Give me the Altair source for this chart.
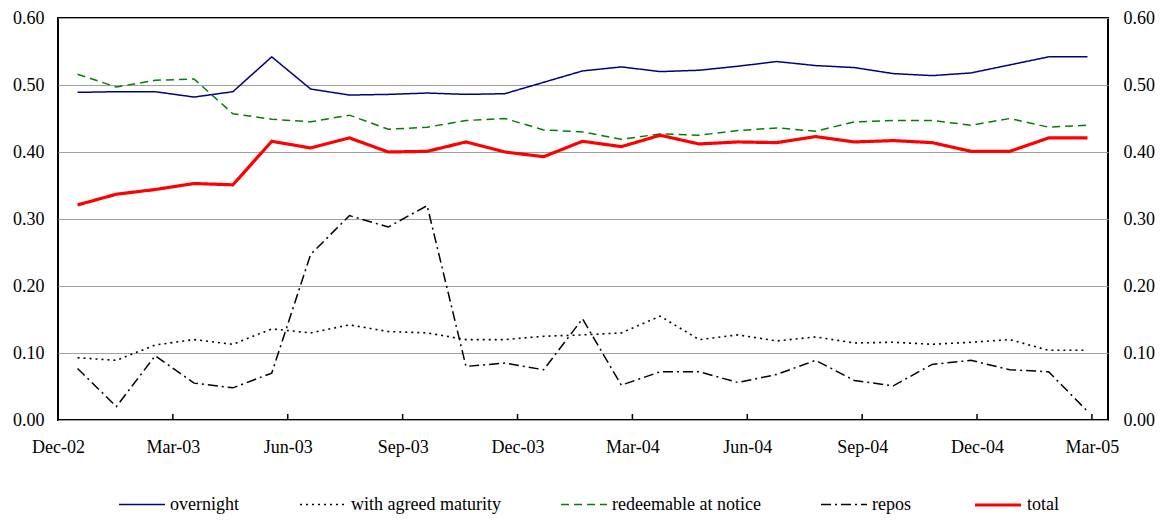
import altair as alt
import pandas as pd

# Series (monthly observations, 27 points)
overnight = [0.489, 0.490, 0.490, 0.482, 0.490, 0.542, 0.494, 0.485, 0.486, 0.488,
             0.486, 0.487, 0.504, 0.521, 0.527, 0.520, 0.522, 0.528, 0.535, 0.529,
             0.526, 0.517, 0.514, 0.518, 0.530, 0.542, 0.542]
agreed = [0.093, 0.089, 0.112, 0.120, 0.113, 0.136, 0.130, 0.142, 0.132, 0.130,
          0.120, 0.120, 0.125, 0.127, 0.130, 0.155, 0.120, 0.127, 0.118, 0.124,
          0.115, 0.116, 0.113, 0.116, 0.120, 0.104, 0.104]
redeemable = [0.516, 0.497, 0.507, 0.509, 0.457, 0.449, 0.445, 0.455, 0.434, 0.437,
              0.447, 0.450, 0.433, 0.430, 0.419, 0.427, 0.425, 0.432, 0.436, 0.431,
              0.445, 0.447, 0.447, 0.440, 0.450, 0.437, 0.440]
repos = [0.077, 0.020, 0.096, 0.055, 0.048, 0.070, 0.247, 0.305, 0.288, 0.320,
         0.080, 0.085, 0.075, 0.151, 0.052, 0.072, 0.072, 0.056, 0.068, 0.089,
         0.059, 0.051, 0.083, 0.089, 0.075, 0.072, 0.013]
total = [0.321, 0.337, 0.344, 0.353, 0.351, 0.416, 0.406, 0.421, 0.400, 0.401,
         0.415, 0.400, 0.393, 0.416, 0.408, 0.425, 0.412, 0.415, 0.414, 0.423,
         0.415, 0.417, 0.414, 0.401, 0.401, 0.421, 0.421]

series_names = ["overnight", "with agreed maturity", "redeemable at notice", "repos", "total"]
series_values = [overnight, agreed, redeemable, repos, total]
series_colors = ["#000080", "#000000", "#008000", "#000000", "#ff0000"]
series_dash = [[1, 0], [2, 4], [8, 5], [10, 4, 2, 4], [1, 0]]
series_width = [1.5, 1.6, 1.5, 1.5, 3.2]

tick_labels = ["Dec-02", "Mar-03", "Jun-03", "Sep-03", "Dec-03",
               "Mar-04", "Jun-04", "Sep-04", "Dec-04", "Mar-05"]

# x positions in months since Dec-02 (quarterly tick every 3 months)
FIRST = 0.51
STEP = 1.0144

rows = []
for name, vals in zip(series_names, series_values):
    for i, v in enumerate(vals):
        rows.append({"series": name, "m": FIRST + i * STEP, "v": v})
df = pd.DataFrame(rows)

tick_pos = [3 * i for i in range(len(tick_labels))]
tick_df = pd.DataFrame({"m": tick_pos, "y0": [0.0] * len(tick_labels)})

FONT = "Liberation Serif"
W, H = 1050, 402

xscale = alt.Scale(domain=[0, 27.42], nice=False, zero=False)
yscale = alt.Scale(domain=[0, 0.6], nice=False)
yvals = [0, 0.1, 0.2, 0.3, 0.4, 0.5, 0.6]

label_arr = "[" + ",".join("'%s'" % t for t in tick_labels) + "]"

xaxis = alt.Axis(values=tick_pos,
                 labelExpr=label_arr + "[round(datum.value/3)]",
                 grid=False, ticks=False, domain=False,
                 labelPadding=18, labelFont=FONT, labelFontSize=18,
                 labelColor="black", labelFlush=False)

lines = alt.Chart(df).mark_line().encode(
    x=alt.X("m:Q", scale=xscale, title=None, axis=xaxis),
    y=alt.Y("v:Q", scale=yscale, title=None,
            axis=alt.Axis(values=yvals, format=".2f",
                          grid=True, gridColor="#a0a0a0", gridWidth=1,
                          ticks=False, domain=False, labelPadding=14,
                          labelFont=FONT, labelFontSize=18, labelColor="black")),
    color=alt.Color("series:N", title=None,
                    scale=alt.Scale(domain=series_names, range=series_colors),
                    legend=alt.Legend(orient="none", direction="horizontal",
                                      legendX=60, legendY=462,
                                      symbolType="stroke", symbolSize=2116,
                                      labelFont=FONT, labelFontSize=18,
                                      labelColor="black", labelOffset=4,
                                      columnPadding=57, padding=0,
                                      labelLimit=400)),
    strokeDash=alt.StrokeDash("series:N", title=None,
                              scale=alt.Scale(domain=series_names, range=series_dash)),
    strokeWidth=alt.StrokeWidth("series:N", title=None,
                                scale=alt.Scale(type="ordinal", domain=series_names,
                                                range=series_width)),
    order=alt.Order("m:Q"),
)

ticks = alt.Chart(tick_df).mark_rule(color="black", strokeWidth=1.5).encode(
    x=alt.X("m:Q", scale=xscale, title=None, axis=xaxis),
    y=alt.Y("y0:Q", scale=yscale, title=None,
            axis=alt.Axis(orient="right", values=yvals,
                          format=".2f", grid=False, ticks=False, domain=False,
                          labelPadding=15, labelFont=FONT, labelFontSize=18,
                          labelColor="black")),
    y2=alt.value(H - 6),
)

chart = alt.layer(lines, ticks).resolve_axis(y="independent").properties(
    width=W, height=H,
    autosize=alt.AutoSizeParams(type="none"),
    padding={"left": 50, "top": 10, "right": 50, "bottom": 95},
    background="white",
).configure_view(stroke="black", strokeWidth=2)

chart.save("out.html", embed_options={"renderer": "svg", "actions": False})
